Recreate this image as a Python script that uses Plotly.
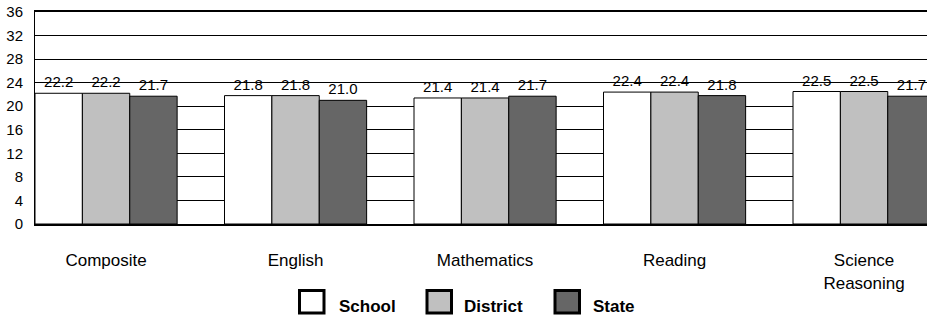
import plotly.graph_objects as go

categories = ["Composite", "English", "Mathematics", "Reading", "Science<br>Reasoning"]
series_names = ["School", "District", "State"]
school = [22.2, 21.8, 21.4, 22.4, 22.5]
district = [22.2, 21.8, 21.4, 22.4, 22.5]
state = [21.7, 21.0, 21.7, 21.8, 21.7]
colors = ["#ffffff", "#c0c0c0", "#666666"]
y_ticks = [0, 4, 8, 12, 16, 20, 24, 28, 32, 36]

W, H = 927, 322
L, R, T, B = 35, 0, 12, 98
PW, PH = W - L - R, H - T - B
FONT = "Liberation Sans, Arial, sans-serif"

fig = go.Figure()
for name, vals, col in zip(series_names, [school, district, state], colors):
    fig.add_trace(go.Bar(
        x=categories, y=vals, name=name,
        marker=dict(color=col, line=dict(color="black", width=1)),
        text=[f"{v:.1f}" for v in vals], textposition="outside",
        textfont=dict(family=FONT, size=15, color="black"),
        cliponaxis=False, showlegend=False,
    ))

def px_x(p):
    return (p - L) / PW

def px_y(p):
    return (H - B - p) / PH

shapes = []
annotations = []
leg_boxes = [(299.5, 324), (427, 451.5), (555, 579.5)]
leg_text_x = [337, 462, 591]
for (x0, x1), tx, name, col in zip(leg_boxes, leg_text_x, series_names, colors):
    shapes.append(dict(type="rect", xref="paper", yref="paper",
                       x0=px_x(x0), x1=px_x(x1), y0=px_y(290.5), y1=px_y(313),
                       fillcolor=col, line=dict(color="black", width=3)))
    annotations.append(dict(xref="paper", yref="paper", x=px_x(tx), y=px_y(306),
                            xanchor="left", yanchor="middle", showarrow=False,
                            text=f"<b>{name}</b>",
                            font=dict(family=FONT, size=17, color="black")))

fig.update_layout(
    width=W, height=H,
    margin=dict(l=L, r=R, t=T, b=B, pad=0),
    paper_bgcolor="white", plot_bgcolor="white",
    barmode="group", bargap=0.25, bargroupgap=0,
    font=dict(family=FONT, color="black"),
    shapes=shapes, annotations=annotations,
    xaxis=dict(
        range=[-0.375, -0.375 + PW / 189.5],
        showgrid=False, showline=True, linecolor="black", linewidth=2,
        mirror=True, ticks="", tickfont=dict(size=17, family=FONT, color="black"),
        ticklabelstandoff=20,
    ),
    yaxis=dict(
        range=[0, 36], tickvals=y_ticks, showgrid=True, gridcolor="black",
        gridwidth=1, zeroline=False, showline=True, linecolor="black", linewidth=1,
        ticks="", tickfont=dict(size=15, family=FONT, color="black"),
        ticklabelstandoff=8,
    ),
)

fig.write_html("out.html")
